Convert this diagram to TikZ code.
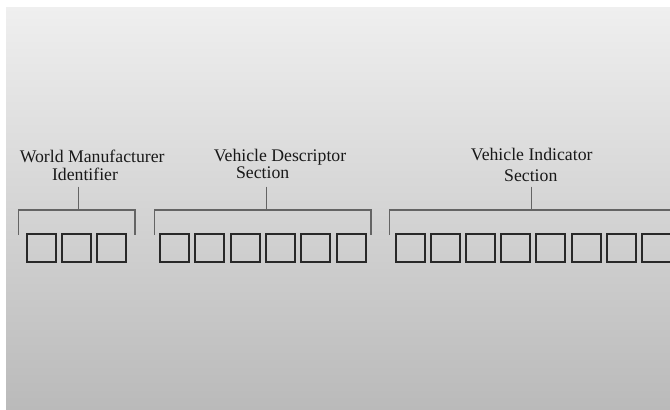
\documentclass[tikz,border=0pt]{standalone}
\usepackage{fontspec}
\setmainfont{Liberation Serif}
\definecolor{bgtop}{RGB}{239,239,239}
\definecolor{bgbot}{RGB}{186,186,186}
\definecolor{boxline}{RGB}{40,40,40}
\definecolor{brline}{RGB}{100,100,100}
\definecolor{txt}{RGB}{25,25,25}
\begin{document}
\begin{tikzpicture}[x=1bp,y=-1bp,
  cell/.style={draw=boxline,line width=2bp,minimum width=29bp,minimum height=28bp,inner sep=0pt},
  brack/.style={draw=brline,line width=1.3bp},
  lbl/.style={anchor=base,inner sep=0pt,text=txt,font=\fontsize{17.8}{18}\selectfont}]
\useasboundingbox (0,0) rectangle (670,409);
\clip (0,0) rectangle (670,409);
\fill[white] (0,0) rectangle (670,409);
\shade[top color=bgtop,bottom color=bgbot] (6,7) rectangle (670,409);
% labels
\node[lbl] (wmiA) at (92.2,162.3) {World Manufacturer};
\node[lbl] (wmiB) at (85,180.3) {Identifier};
\node[lbl] (vdsA) at (280,161.7) {Vehicle Descriptor};
\node[lbl] (vdsB) at (262.7,178.2) {Section};
\node[lbl] (visA) at (531.7,160.7) {Vehicle Indicator};
\node[lbl] (visB) at (530.8,181.7) {Section};
% cells
\foreach \i in {0,1,2} \node[cell] (w\i) at ({41+35.3*\i},248) {};
\foreach \i in {0,...,5} \node[cell] (d\i) at ({174.5+35.3*\i},248) {};
\foreach \i in {0,...,7} \node[cell] (v\i) at ({410.5+35.1*\i},248) {};
% brackets
\coordinate (wT) at (78.3,186.5);
\coordinate (wM) at (78.3,210);
\coordinate (dT) at (266.7,186.5);
\coordinate (dM) at (266.7,210);
\coordinate (vT) at (531.7,186.5);
\coordinate (vM) at (531.7,210);
\draw[brack] (18.7,234.5) |- (135,210) -- (135,234.5);
\draw[brack] (wT) -- (wM);
\draw[brack] (154.3,234.5) |- (371,210) -- (371,234.5);
\draw[brack] (dT) -- (dM);
\draw[brack] (389.3,234.5) |- (680,210);
\draw[brack] (vT) -- (vM);
\end{tikzpicture}
\end{document}
